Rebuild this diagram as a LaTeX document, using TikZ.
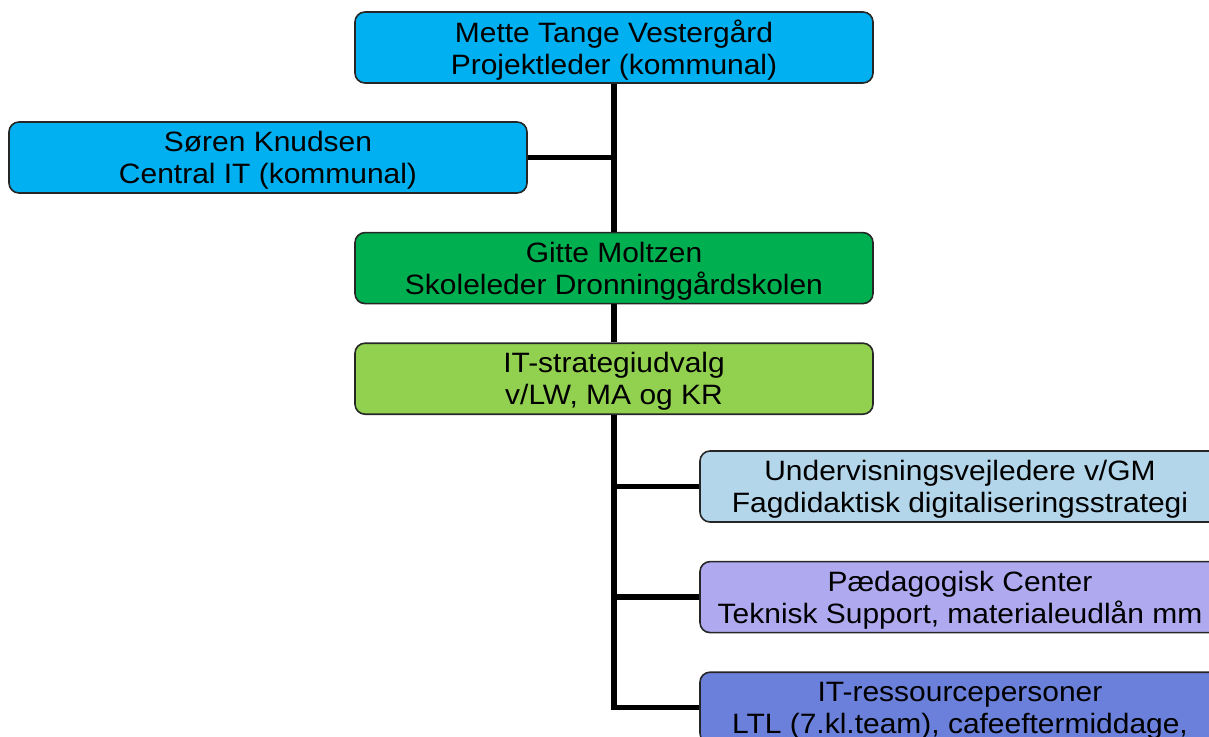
\documentclass[tikz,border=0pt]{standalone}
\usepackage{fontspec}
\setmainfont{Liberation Sans}[FakeStretch=1.07]
\usetikzlibrary{positioning}

\definecolor{leadblue}{HTML}{00B0F0}
\definecolor{schoolgreen}{HTML}{00B050}
\definecolor{stratgreen}{HTML}{92D050}
\definecolor{guideblue}{HTML}{B4D6EA}
\definecolor{centerlilac}{HTML}{AFAAF0}
\definecolor{resblue}{HTML}{6B80DA}

\tikzset{
	unit/.style={draw=black!85, line width=1.6pt, rounded corners=10pt,
		minimum width=518pt, minimum height=71pt, inner sep=0pt, text depth=-1pt,
		align=center, font=\fontsize{28}{32}\selectfont},
	link/.style={line width=5.5pt},
}

\begin{document}
\begin{tikzpicture}[x=1pt, y=-1pt, node distance=38pt]
	\useasboundingbox (0,0) rectangle (1209,736);
	% Draw the management
	\node[unit, fill=leadblue] (mette) at (614,47.5) {Mette Tange Vestergård\\Projektleder (kommunal)};
	\node[unit, fill=leadblue] (soren) at (268,157.5) {Søren Knudsen\\Central IT (kommunal)};
	\node[unit, fill=schoolgreen, below=148pt of mette] (gitte) {Gitte Moltzen\\Skoleleder Dronninggårdskolen};
	\node[unit, fill=stratgreen, below=of gitte] (strat) {IT-strategiudvalg\\v/LW, MA og KR};
	% Draw the support units
	\node[unit, fill=guideblue, minimum width=520pt] (guide) at (960,486.5) {Undervisningsvejledere v/GM\\Fagdidaktisk digitaliseringsstrategi};
	\node[unit, fill=centerlilac, minimum width=520pt, below=of guide] (center) {Pædagogisk Center\\Teknisk Support, materialeudlån mm};
	\node[unit, fill=resblue, minimum width=520pt, below=of center] (res) {IT-ressourcepersoner\\LTL (7.kl.team), cafeeftermiddage,};
	% Connect the units with lines
	\draw[link] (mette.south) -- (gitte.north);
	\draw[link] (soren.east) -- (soren.east -| mette.south);
	\draw[link] (gitte.south) -- (strat.north);
	\draw[link] (strat.south) -- (strat.south |- res.west) -- (res.west);
	\draw[link] (guide.west -| strat.south) -- (guide.west);
	\draw[link] (center.west -| strat.south) -- (center.west);
\end{tikzpicture}
\end{document}
